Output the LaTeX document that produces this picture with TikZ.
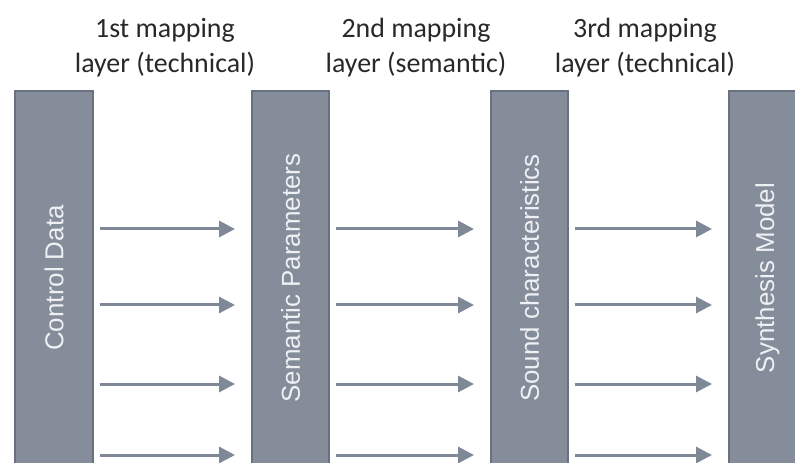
\documentclass[tikz,border=0pt]{standalone}
\usepackage{fontspec}
\setmainfont{Carlito}
\newfontfamily\barfont{Liberation Sans}
\usetikzlibrary{arrows.meta,calc}
\definecolor{barfill}{RGB}{133,141,154}
\definecolor{baredge}{RGB}{106,113,126}
\definecolor{arrowgray}{RGB}{127,136,150}
\definecolor{headtext}{RGB}{40,40,40}
\definecolor{bartext}{RGB}{238,240,243}
\tikzset{
  layerbar/.style={draw=baredge, fill=barfill, line width=2bp,
    minimum width=77bp, minimum height=374bp, inner sep=0pt,
    font=\barfont\fontsize{26}{30}\selectfont, text=bartext},
  header/.style={align=center, inner sep=0pt, text=headtext,
    font=\fontsize{28}{36}\selectfont},
  flow/.style={draw=arrowgray, line width=3bp,
    -{Triangle[length=16bp,width=16bp]},
    shorten <=6bp, shorten >=16bp},
}
\begin{document}
\begin{tikzpicture}[x=1bp,y=-1bp]
\useasboundingbox (0,0) rectangle (795,463);
\clip (0,0) rectangle (795,463);

% the four processing stages
\node[layerbar] (b1) at (54,278)  {\rotatebox{90}{Control Data}};
\node[layerbar] (b2) at (290.5,278) {\rotatebox{90}{Semantic Parameters}};
\node[layerbar] (b3) at (529.5,278) {\rotatebox{90}{Sound characteristics}};
\node[layerbar] (b4) at (767.5,278) {\rotatebox{90}{Synthesis Model}};

% mapping layer titles (base anchor sits on the last line)
\node[header, anchor=base] (h1) at (165,73) {1st mapping\\layer (technical)};
\node[header, anchor=base] (h2) at (416,73) {2nd mapping\\layer (semantic)};
\node[header, anchor=base] (h3) at (645,73) {3rd mapping\\layer (technical)};

% rows of parallel mappings
\coordinate (r1) at (0,229);
\coordinate (r2) at (0,305);
\coordinate (r3) at (0,384);
\coordinate (r4) at (0,455);
\foreach \r in {r1,r2,r3,r4}{
  \draw[flow] (b1.east |- \r) -- (b2.west |- \r);
  \draw[flow] (b2.east |- \r) -- (b3.west |- \r);
  \draw[flow] (b3.east |- \r) -- (b4.west |- \r);
}
\end{tikzpicture}
\end{document}
